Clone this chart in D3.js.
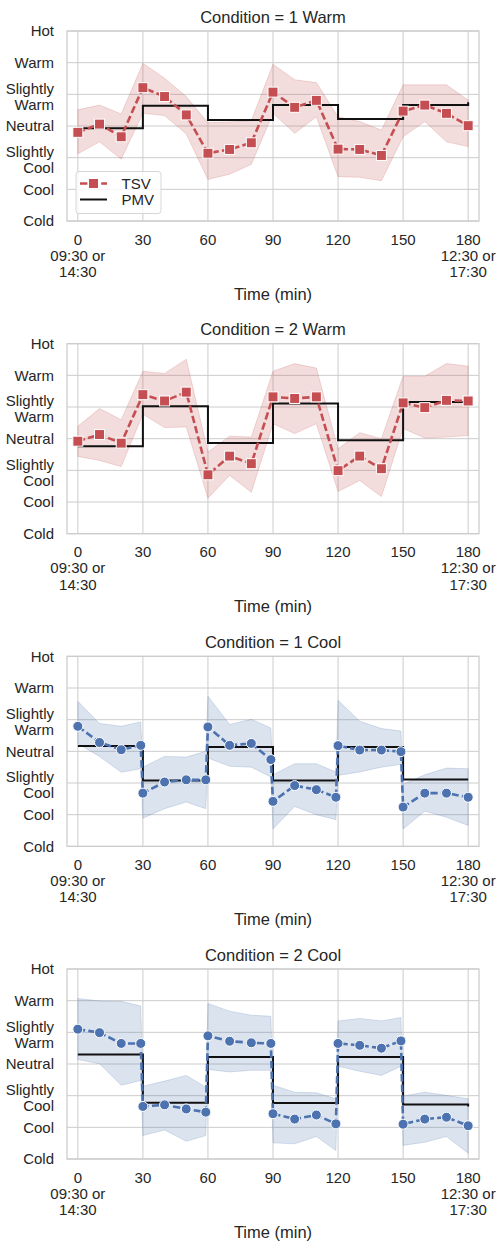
<!DOCTYPE html>
<html>
<head>
<meta charset="utf-8">
<script src="https://cdn.jsdelivr.net/npm/d3@7"></script>
<style>
  body { margin: 0; background: #fff; }
  text { font-family: "Liberation Sans", Arial, sans-serif; fill: #262626; }
</style>
</head>
<body>
<script>
// y categories (value -3..3) and x ticks
const yValues = [-3, -2, -1, 0, 1, 2, 3];
const yLabels = ['Cold', 'Cool', 'Slightly\nCool', 'Neutral', 'Slightly\nWarm', 'Warm', 'Hot'];
const xTicks = [0, 30, 60, 90, 120, 150, 180];
const xTickLabels = ['0\n09:30 or\n14:30', '30', '60', '90', '120', '150', '180\n12:30 or\n17:30'];
const pmvTimes = [0, 30, 60, 90, 120, 150, 180];

const warmTimes = [0, 10, 20, 30, 40, 50, 60, 70, 80, 90, 100, 110, 120, 130, 140, 150, 160, 170, 180];
const coolTimes = [0, 10, 20, 29, 30, 40, 50, 59, 60, 70, 80, 89, 90, 100, 110, 119, 120, 130, 140, 149, 150, 160, 170, 180];

// Condition = 1 Warm
const tsv1Warm = [-0.2, 0.06, -0.34, 1.21, 0.93, 0.35, -0.86, -0.74, -0.53, 1.07, 0.59, 0.81, -0.73, -0.74, -0.93, 0.47, 0.66, 0.40, 0.01];
const hi1Warm = [0.51, 0.66, 0.38, 1.98, 1.51, 0.93, 0.10, 0.13, 0.17, 1.95, 1.46, 1.37, 0.29, 0.14, -0.13, 1.30, 1.30, 1.30, 0.82];
const lo1Warm = [-0.88, -0.5, -1.05, 0.40, 0.33, -0.25, -1.69, -1.52, -1.21, 0.40, -0.23, 0.29, -1.60, -1.62, -1.73, -0.34, 0.14, -0.5, -0.65];
const pmv1Warm = [-0.07, 0.64, 0.19, 0.66, 0.22, 0.66, 0.75];

// Condition = 2 Warm
const tsv2Warm = [-0.08, 0.13, -0.14, 1.39, 1.19, 1.47, -1.14, -0.55, -0.79, 1.32, 1.27, 1.32, -1.01, -0.55, -0.95, 1.13, 0.98, 1.21, 1.19];
const hi2Warm = [0.39, 0.95, 0.60, 2.13, 2.06, 2.51, -0.42, 0.08, 0.05, 2.13, 2.37, 2.23, -0.32, 0.19, 0.0, 1.97, 1.97, 2.37, 2.29];
const lo2Warm = [-0.56, -0.69, -0.88, 0.77, 0.35, 0.37, -1.88, -1.16, -1.69, 0.47, 0.16, 0.47, -1.67, -1.32, -1.83, 0.32, 0.02, 0.05, 0.10];
const pmv2Warm = [-0.24, 1.02, -0.14, 1.11, -0.05, 1.16, 1.21];

// Condition = 1 Cool
const tsv1Cool = [0.79, 0.28, 0.05, 0.19, -1.32, -0.97, -0.9, -0.9, 0.77, 0.19, 0.25, -0.26, -1.58, -1.08, -1.21, -1.45, 0.18, 0.04, 0.04, -0.01, -1.76, -1.32, -1.32, -1.45];
const hi1Cool = [1.58, 0.88, 0.79, 0.93, -0.5, -0.16, -0.18, 0.0, 1.74, 0.85, 1.01, 0.74, -0.74, -0.39, -0.39, -0.65, 1.61, 0.95, 0.72, 0.64, -1.04, -0.74, -0.53, -0.55];
const lo1Cool = [0.24, -0.16, -0.66, -0.55, -2.11, -1.81, -1.6, -1.81, -0.21, -0.47, -0.5, -0.81, -2.45, -1.74, -2.0, -2.16, -0.76, -0.65, -0.5, -0.41, -2.45, -1.89, -2.08, -2.34];
const pmv1Cool = [0.17, -0.92, 0.14, -0.92, 0.14, -0.89, -0.89];

// Condition = 2 Cool
const tsv2Cool = [1.1, 0.99, 0.65, 0.65, -1.34, -1.29, -1.42, -1.52, 0.89, 0.72, 0.67, 0.65, -1.57, -1.74, -1.61, -1.89, 0.65, 0.59, 0.5, 0.73, -1.9, -1.74, -1.68, -1.95];
const hi2Cool = [2.07, 1.99, 1.98, 1.83, -0.7, -0.54, -0.36, -0.73, 1.91, 1.67, 1.54, 1.51, -0.67, -0.89, -0.91, -1.1, 1.36, 1.44, 1.36, 1.47, -1.01, -0.89, -0.99, -1.1];
const lo2Cool = [0.14, 0.01, -0.67, -0.52, -2.26, -2.08, -2.44, -2.26, -0.17, -0.25, -0.2, -0.2, -2.49, -2.52, -2.29, -2.73, -0.07, -0.23, -0.36, -0.07, -2.57, -2.47, -2.29, -2.82];
const pmv2Cool = [0.3, -1.22, 0.22, -1.23, 0.22, -1.28, -1.34];

const red = '#c44e52';
const blue = '#4c72b0';

const panels = [
  { title: 'Condition = 1 Warm', times: warmTimes, tsv: tsv1Warm, hi: hi1Warm, lo: lo1Warm, pmv: pmv1Warm, color: red, marker: 'square' },
  { title: 'Condition = 2 Warm', times: warmTimes, tsv: tsv2Warm, hi: hi2Warm, lo: lo2Warm, pmv: pmv2Warm, color: red, marker: 'square' },
  { title: 'Condition = 1 Cool', times: coolTimes, tsv: tsv1Cool, hi: hi1Cool, lo: lo1Cool, pmv: pmv1Cool, color: blue, marker: 'circle' },
  { title: 'Condition = 2 Cool', times: coolTimes, tsv: tsv2Cool, hi: hi2Cool, lo: lo2Cool, pmv: pmv2Cool, color: blue, marker: 'circle' }
];

const w = 498;
const h = 1242;
const left = 67;
const right = 479;
const top0 = 31;
const step = 312.67;
const ph = 190;
const dash = '7.4,3.2';

const svg = d3.select('body').append('svg').attr('width', w).attr('height', h);

const xScale = d3.scaleLinear().domain([-5, 185]).range([left, right]);

panels.forEach((p, pi) => {
  const top = top0 + pi * step;
  const bottom = top + ph;
  const yScale = d3.scaleLinear().domain([-3, 3]).range([bottom, top]);
  const g = svg.append('g');

  // grid
  g.selectAll('.hgrid').data(yValues).enter().append('line')
   .attr('x1', left).attr('x2', right)
   .attr('y1', (d) => yScale(d)).attr('y2', (d) => yScale(d))
   .attr('stroke', '#cccccc').attr('stroke-width', 1);
  g.selectAll('.vgrid').data(xTicks).enter().append('line')
   .attr('x1', (d) => xScale(d)).attr('x2', (d) => xScale(d))
   .attr('y1', top).attr('y2', bottom)
   .attr('stroke', '#cccccc').attr('stroke-width', 1);

  const pts = p.times.map((t, i) => ({ t: t, v: p.tsv[i], hi: p.hi[i], lo: p.lo[i] }));

  // confidence band
  const area = d3.area().x((d) => xScale(d.t)).y0((d) => yScale(d.lo)).y1((d) => yScale(d.hi));
  g.append('path').datum(pts).attr('d', area)
   .attr('fill', p.color).attr('fill-opacity', 0.2)
   .attr('stroke', p.color).attr('stroke-opacity', 0.2).attr('stroke-width', 1);

  // PMV step line
  const pmvPts = pmvTimes.map((t, i) => ({ t: t, v: p.pmv[i] }));
  const stepLine = d3.line().x((d) => xScale(d.t)).y((d) => yScale(d.v)).curve(d3.curveStepAfter);
  g.append('path').datum(pmvPts).attr('d', stepLine)
   .attr('fill', 'none').attr('stroke', '#111').attr('stroke-width', 2);

  // TSV line
  const line = d3.line().x((d) => xScale(d.t)).y((d) => yScale(d.v));
  g.append('path').datum(pts).attr('d', line)
   .attr('fill', 'none').attr('stroke', p.color).attr('stroke-width', 2.6)
   .attr('stroke-dasharray', dash);

  if (p.marker === 'square') {
    g.selectAll('.mk').data(pts).enter().append('rect')
     .attr('x', (d) => xScale(d.t) - 5).attr('y', (d) => yScale(d.v) - 5)
     .attr('width', 10).attr('height', 10)
     .attr('fill', p.color).attr('stroke', '#fff').attr('stroke-width', 1);
  } else {
    g.selectAll('.mk').data(pts).enter().append('circle')
     .attr('cx', (d) => xScale(d.t)).attr('cy', (d) => yScale(d.v)).attr('r', 5)
     .attr('fill', p.color).attr('stroke', '#fff').attr('stroke-width', 1);
  }

  // frame
  g.append('rect').attr('x', left).attr('y', top).attr('width', right - left).attr('height', ph)
   .attr('fill', 'none').attr('stroke', '#cccccc').attr('stroke-width', 1.25);

  // y tick labels
  yValues.forEach((v, i) => {
    const lines = yLabels[i].split('\n');
    const cy = yScale(v);
    const offs = lines.length === 1 ? [0] : [-6, 10];
    lines.forEach((s, j) => {
      g.append('text').text(s)
       .attr('x', 54).attr('y', cy + offs[j] + 5.3)
       .attr('text-anchor', 'end').style('font-size', '15px');
    });
  });

  // x tick labels
  xTicks.forEach((t, i) => {
    xTickLabels[i].split('\n').forEach((s, j) => {
      g.append('text').text(s)
       .attr('x', xScale(t)).attr('y', bottom + 23.5 + j * 16.3)
       .attr('text-anchor', 'middle').style('font-size', '15px');
    });
  });

  // title and x label
  g.append('text').text(p.title)
   .attr('x', (left + right) / 2).attr('y', top - 8.5)
   .attr('text-anchor', 'middle').style('font-size', '16.5px');
  g.append('text').text('Time (min)')
   .attr('x', (left + right) / 2).attr('y', bottom + 78.5)
   .attr('text-anchor', 'middle').style('font-size', '16.5px');

  // legend in first panel
  if (pi === 0) {
    const lg = g.append('g');
    lg.append('rect').attr('x', 76).attr('y', 171.5).attr('width', 85).attr('height', 42)
      .attr('rx', 3).attr('fill', '#fff').attr('fill-opacity', 0.8)
      .attr('stroke', '#d6d6d6').attr('stroke-width', 1);
    lg.append('line').attr('x1', 80).attr('x2', 107).attr('y1', 183.5).attr('y2', 183.5)
      .attr('stroke', red).attr('stroke-width', 2.6).attr('stroke-dasharray', dash);
    lg.append('rect').attr('x', 88.5).attr('y', 178.5).attr('width', 10).attr('height', 10)
      .attr('fill', red).attr('stroke', '#fff').attr('stroke-width', 1);
    lg.append('line').attr('x1', 80).attr('x2', 107).attr('y1', 199.5).attr('y2', 199.5)
      .attr('stroke', '#111').attr('stroke-width', 2);
    lg.append('text').text('TSV').attr('x', 121.5).attr('y', 188.8).style('font-size', '15px');
    lg.append('text').text('PMV').attr('x', 121.5).attr('y', 204.8).style('font-size', '15px');
  }
});
</script>
</body>
</html>
